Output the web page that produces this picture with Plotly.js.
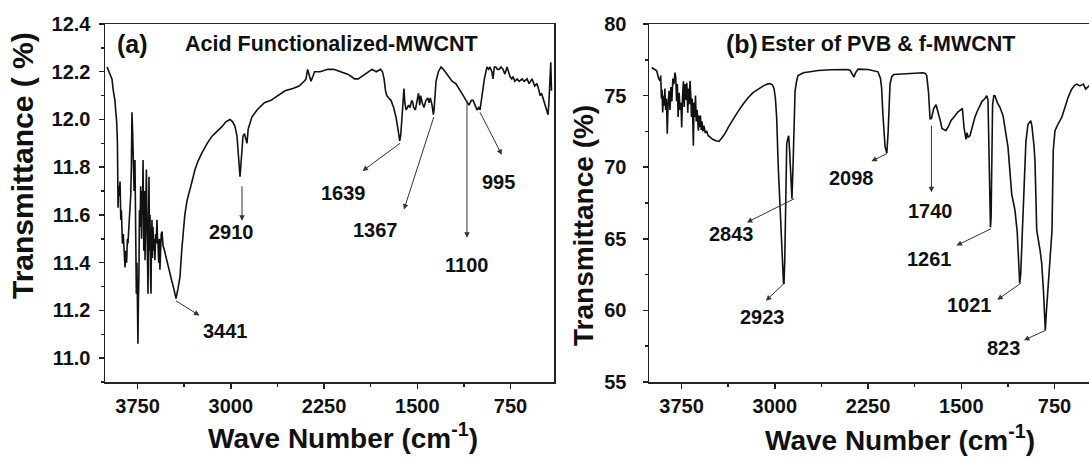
<!DOCTYPE html>
<html><head><meta charset="utf-8">
<script src="https://cdn.plot.ly/plotly-3.0.1.min.js"></script>
<style>html,body{margin:0;padding:0;overflow:hidden;background:#fff}#chart{width:1100px;height:459px}</style>
</head><body><div id="chart"></div>
<script>
// ---- Panel (a): Acid Functionalized-MWCNT ----
const wnA = [
3996,3980,3965,3956,3945,3932,3925,3918,3912,3907,
3902,3897,3891,3885,3880,3872,3865,3858,3851,3845,
3838,3832,3827,3820,3812,3805,3800,3795,3790,3785,
3778,3771,3765,3760,3755,3750,3747,3743,3739,3735,
3730,3725,3718,3714,3710,3706,3700,3695,3690,3684,
3679,3674,3670,3666,3662,3658,3654,3650,3646,3642,
3638,3634,3630,3626,3620,3615,3610,3605,3600,3594,
3590,3586,3580,3575,3570,3565,3560,3553,3548,3545,
3538,3529,3518,3505,3490,3473,3458,3441,3425,3409,
3395,3384,3370,3352,3330,3312,3288,3260,3232,3190,
3151,3110,3071,3040,3006,2985,2966,2950,2940,2930,
2926,2920,2910,2902,2890,2880,2870,2860,2849,2830,
2789,2730,2677,2620,2564,2500,2451,2410,2395,2382,
2370,2355,2340,2326,2282,2220,2172,2110,2060,2030,
2005,1975,1948,1900,1864,1830,1795,1780,1767,1755,
1745,1730,1711,1690,1671,1655,1645,1641,1632,1625,
1615,1607,1600,1590,1580,1570,1558,1545,1535,1529,
1515,1502,1490,1480,1473,1460,1446,1430,1415,1405,
1395,1381,1370,1365,1355,1349,1330,1309,1290,1277,
1250,1220,1190,1164,1130,1108,1095,1084,1065,1051,
1035,1019,1005,995,979,960,939,925,915,900,
891,880,868,855,842,826,810,795,778,765,
754,740,730,715,697,680,657,640,617,600,
577,555,537,520,512,500,488,472,456,448,
440,432,426,420];
const tA = [
12.22,12.20,12.18,12.17,12.12,12.08,12.03,11.99,11.90,11.63,
11.72,11.68,11.74,11.58,11.62,11.48,11.52,11.42,11.38,11.45,
11.40,11.50,11.48,11.55,11.60,11.68,11.80,12.03,11.95,11.88,
11.70,11.83,11.55,11.27,11.40,11.10,11.06,11.25,11.35,11.62,
11.55,11.72,11.50,11.70,11.60,11.83,11.45,11.70,11.41,11.62,
11.79,11.55,11.30,11.27,11.55,11.76,11.45,11.60,11.35,11.27,
11.50,11.58,11.42,11.55,11.45,11.50,11.41,11.52,11.48,11.58,
11.50,11.48,11.40,11.50,11.37,11.48,11.52,11.53,11.47,11.47,
11.46,11.44,11.42,11.38,11.35,11.32,11.29,11.25,11.29,11.34,
11.45,11.53,11.60,11.66,11.71,11.74,11.79,11.83,11.86,11.90,
11.93,11.95,11.97,11.99,12.00,11.99,11.97,11.93,11.86,11.78,
11.76,11.80,11.88,11.93,11.94,11.92,11.90,11.96,11.98,12.01,
12.04,12.07,12.08,12.10,12.12,12.13,12.14,12.16,12.17,12.21,
12.19,12.16,12.18,12.20,12.20,12.21,12.21,12.20,12.19,12.18,
12.17,12.17,12.18,12.20,12.21,12.20,12.21,12.20,12.17,12.12,
12.10,12.09,12.08,12.05,12.01,11.96,11.92,11.91,11.94,11.99,
12.06,12.13,12.07,12.04,12.05,12.06,12.05,12.08,12.07,12.05,
12.04,12.07,12.11,12.06,12.10,12.07,12.05,12.08,12.09,12.07,
12.09,12.06,12.02,12.04,12.11,12.16,12.20,12.22,12.21,12.20,
12.18,12.16,12.15,12.13,12.10,12.08,12.07,12.06,12.08,12.08,
12.06,12.04,12.05,12.04,12.10,12.17,12.22,12.21,12.22,12.20,
12.17,12.22,12.22,12.21,12.21,12.22,12.21,12.19,12.22,12.20,
12.18,12.17,12.18,12.16,12.17,12.16,12.17,12.16,12.17,12.15,
12.17,12.14,12.15,12.12,12.10,12.11,12.09,12.07,12.04,12.02,
12.08,12.17,12.24,12.12];

// ---- Panel (b): Ester of PVB & f-MWCNT ----
const wnB = [
3990,3970,3950,3935,3923,3918,3912,3907,3902,3896,
3890,3884,3878,3872,3865,3858,3850,3843,3836,3828,
3820,3812,3803,3797,3790,3784,3778,3770,3762,3755,
3749,3742,3735,3729,3722,3715,3708,3700,3694,3688,
3682,3677,3670,3664,3658,3655,3650,3644,3638,3632,
3625,3620,3615,3610,3604,3598,3592,3586,3578,3570,
3560,3548,3535,3520,3500,3475,3449,3425,3401,3370,
3334,3295,3253,3215,3173,3130,3092,3060,3039,3020,
3006,2995,2985,2972,2958,2944,2935,2930,2926,2920,
2912,2904,2895,2888,2880,2870,2862,2852,2845,2837,
2825,2813,2770,2725,2650,2550,2475,2420,2395,2375,
2363,2350,2330,2250,2200,2170,2150,2141,2130,2113,
2099,2088,2073,2060,2043,1980,1920,1860,1808,1790,
1778,1764,1751,1740,1730,1722,1703,1690,1670,1655,
1640,1624,1600,1582,1550,1526,1505,1491,1478,1470,
1462,1455,1445,1430,1410,1390,1373,1350,1333,1309,
1295,1285,1277,1270,1265,1260,1255,1248,1238,1229,
1210,1188,1164,1148,1130,1124,1094,1068,1050,1040,
1030,1022,1012,1002,990,980,963,950,941,932,
923,915,907,893,866,853,839,832,824,816,
808,792,778,770,760,746,722,692,666,641,
612,590,571,545,530,518,499,485,472,450,
430,410];
const tB = [
76.96,76.85,76.73,76.20,76.03,76.40,74.80,75.40,73.82,75.00,
74.30,75.50,74.00,74.80,72.34,74.50,75.33,74.00,75.60,74.60,
76.20,75.80,76.60,76.30,74.60,75.80,73.50,75.20,74.00,74.50,
72.78,75.00,76.00,74.20,75.80,74.70,75.90,73.80,75.50,74.40,
76.03,75.20,73.50,74.80,72.00,71.50,74.50,73.50,75.00,73.20,
74.00,72.80,72.55,73.60,72.80,73.60,72.60,73.20,72.50,72.90,
72.40,72.50,72.20,72.10,71.95,71.85,71.80,72.05,72.34,72.85,
73.38,73.90,74.43,74.85,75.22,75.48,75.68,75.80,75.84,75.75,
75.50,74.80,73.48,70.00,66.98,64.20,62.30,61.90,61.90,63.50,
67.50,71.64,72.00,72.20,71.00,68.50,67.80,70.50,73.50,75.30,
76.00,76.40,76.60,76.66,76.75,76.80,76.84,76.82,76.77,76.50,
76.30,76.60,76.85,76.82,76.75,76.66,76.20,75.56,73.63,71.45,
70.97,72.50,75.80,76.30,76.48,76.50,76.53,76.58,76.60,76.55,
76.40,75.30,73.38,73.40,73.80,74.10,74.36,74.00,73.30,72.70,
72.60,72.55,72.90,73.27,73.60,73.87,74.00,74.10,72.78,72.20,
71.94,72.40,72.10,72.20,72.90,73.50,73.87,74.30,74.60,74.80,
74.99,74.70,70.70,67.00,65.80,66.50,71.50,74.36,75.00,74.99,
74.50,74.17,73.60,72.78,71.60,71.40,68.10,67.00,65.50,63.00,
61.90,62.50,64.50,66.50,70.00,71.80,73.00,73.20,73.24,72.90,
72.30,71.50,70.46,65.60,64.20,63.30,61.40,60.00,58.60,59.80,
60.90,62.80,64.70,65.60,71.15,72.55,73.00,73.48,74.17,74.87,
75.45,75.70,75.80,75.68,75.75,75.80,75.45,75.60,75.68,75.50,
75.40,75.30];

// ---- Peak labels ----
const peakWnA = [3441, 2910, 1639, 1367, 1100, 995];
const peakTA  = [11.24, 11.72, 11.90, 12.01, 12.08, 12.03];
const peakWnB = [2843, 2923, 2098, 1740, 1261, 1021, 823];
const peakTB  = [67.8, 61.9, 70.95, 72.9, 65.7, 61.9, 58.6];

// layout (pixel offsets of arrow head and label from the peak point)
const headOffA  = [[24,15],[0,35],[-38,28],[-30,93],[0,138],[22,43]];
const labelOffA = [[50,30],[-10,46],[-56,50],[-58,113],[0,165],[18,70]];
const headOffB  = [[-48,24],[-19,18],[-16,8],[0,67],[-35,17],[-24,17],[-22,10]];
const labelOffB = [[-63,35],[-22,34],[-35,24],[-1,85],[-61,30],[-51,22],[-42,18]];

const W = 1100, H = 459;
const FONT = 'Liberation Sans, Arial, sans-serif';
const INK = '#111';
const bold = (s, c) => ({family: FONT, size: s, color: c || INK, weight: 'bold'});

function axis(extra) {
  return Object.assign({
    showgrid: false, zeroline: false, showline: true, linecolor: '#222', linewidth: 1.5,
    mirror: true, ticks: 'outside', ticklen: 5, tickwidth: 1.5, tickcolor: '#222',
    tickfont: bold(20), fixedrange: true
  }, extra);
}

const traces = [
  {x: wnA, y: tA, xaxis: 'x', yaxis: 'y', mode: 'lines', line: {color: INK, width: 1.6}, hoverinfo: 'skip'},
  {x: wnB, y: tB, xaxis: 'x2', yaxis: 'y2', mode: 'lines', line: {color: INK, width: 1.6}, hoverinfo: 'skip'}
];

const ann = [];
function addPeaks(wns, ts, heads, labels, xr, yr) {
  wns.forEach((w, i) => {
    ann.push({xref: xr, yref: yr, x: w, y: ts[i], ax: heads[i][0], ay: heads[i][1],
      text: '', showarrow: true, arrowside: 'start', startarrowhead: 2, startarrowsize: 1.1,
      arrowwidth: 1, arrowcolor: '#333', standoff: 0, startstandoff: 0, borderpad: 0});
    ann.push({xref: xr, yref: yr, x: w, y: ts[i], xshift: labels[i][0], yshift: -labels[i][1],
      text: String(w), showarrow: false, xanchor: 'center', yanchor: 'middle', font: bold(20)});
  });
}
addPeaks(peakWnA, peakTA, headOffA, labelOffA, 'x', 'y');
addPeaks(peakWnB, peakTB, headOffB, labelOffB, 'x2', 'y2');

function paperText(text, x, y, size, opts) {
  ann.push(Object.assign({xref: 'paper', yref: 'paper', x: x / W, y: 1 - y / H, text: text,
    showarrow: false, xanchor: 'center', yanchor: 'middle', font: bold(size)}, opts || {}));
}
paperText('(a)', 115, 44, 25, {xanchor: 'left'});
paperText('Acid Functionalized-MWCNT', 331, 44, 21.5);
paperText('(b)', 724, 44, 25, {xanchor: 'left'});
paperText('Ester of PVB &amp; f-MWCNT', 888, 44, 21.5);
paperText('Wave Number (cm<sup>-1</sup>)', 343, 436, 28);
paperText('Wave Number (cm<sup>-1</sup>)', 900, 438, 28);
paperText('Transmittance ( %)', 22, 166, 30, {textangle: -90});
paperText('Transmittance (%)', 584, 226, 28, {textangle: -90});

const yDom = [1 - 382 / H, 1 - 24 / H];
const layout = {
  width: W, height: H, margin: {l: 0, r: 0, t: 0, b: 0, pad: 0},
  paper_bgcolor: '#fff', plot_bgcolor: '#fff', showlegend: false,
  xaxis: axis({domain: [105 / W, 554 / W], range: [4012, 400], tick0: 0, dtick: 750, anchor: 'y',
    minor: {dtick: 375, ticks: 'outside', ticklen: 3, tickwidth: 1.5, tickcolor: '#222'}}),
  yaxis: axis({domain: yDom, range: [10.9, 12.4], tick0: 0, dtick: 0.2, tickformat: '.1f', anchor: 'x',
    ticklabelstandoff: 4,
    minor: {dtick: 0.1, ticks: 'outside', ticklen: 3, tickwidth: 1.5, tickcolor: '#222'}}),
  xaxis2: axis({domain: [649 / W, 1098 / W], range: [4012, 400], tick0: 0, dtick: 750, anchor: 'y2',
    minor: {dtick: 375, ticks: 'outside', ticklen: 3, tickwidth: 1.5, tickcolor: '#222'}}),
  yaxis2: axis({domain: yDom, range: [55, 80], tick0: 0, dtick: 5, anchor: 'x2',
    ticklabelstandoff: 12,
    minor: {dtick: 2.5, ticks: 'outside', ticklen: 3, tickwidth: 1.5, tickcolor: '#222'}}),
  annotations: ann
};
Plotly.newPlot('chart', traces, layout, {displayModeBar: false, staticPlot: true});
</script></body></html>
